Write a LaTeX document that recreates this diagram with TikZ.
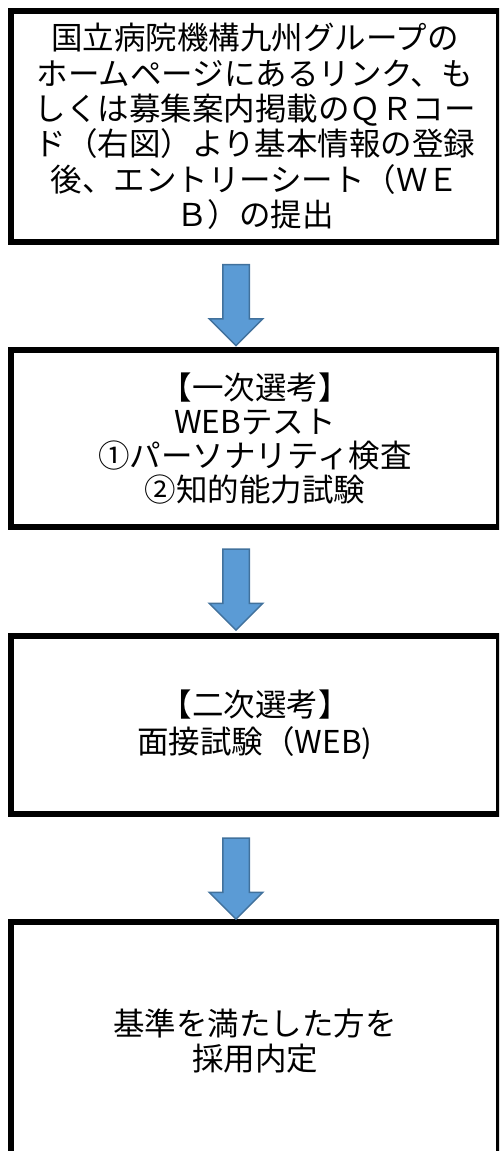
\documentclass[tikz,border=0pt]{standalone}
\usepackage{fontspec}
\setmainfont{Noto Sans CJK JP}
\usetikzlibrary{shapes.arrows}
\definecolor{arrowblue}{HTML}{5B9BD5}
\definecolor{arrowedge}{HTML}{41719C}

\begin{document}
\begin{tikzpicture}[x=1pt, y=-1pt,
		stagebox/.style={draw, line width=6pt, align=center, inner sep=0pt, minimum width=488pt},
		flowarrow/.style={single arrow, draw=arrowedge, fill=arrowblue, line width=1.5pt,
			inner sep=0pt, inner ysep=12.5pt, single arrow head extend=13.5pt,
			minimum height=81pt, rotate=-90}
	]

	\useasboundingbox (0,0) rectangle (499,1151);
	\clip (0,0) rectangle (499,1151);

	\node[stagebox, minimum height=231pt, font=\fontsize{31.5}{35.4}\selectfont] (entry) at (255,126.5) {
		国立病院機構九州グループの\\
		ホームページにあるリンク、も\\
		しくは募集案内掲載のＱＲコー\\
		ド（右図）より基本情報の登録\\
		後、エントリーシート（ＷＥ\\
		Ｂ）の提出
	};

	\node[stagebox, minimum height=177pt, font=\fontsize{31.5}{34}\selectfont] (first) at (255,438.5) {
		【一次選考】\\
		WEBテスト\\
		①パーソナリティ検査\\
		②知的能力試験
	};

	\node[stagebox, minimum height=178pt, font=\fontsize{31.5}{37}\selectfont] (second) at (255,725) {
		【二次選考】\\
		面接試験（WEB)
	};

	\node[stagebox, minimum height=238pt, font=\fontsize{31.5}{35}\selectfont] (offer) at (255,1041) {
		基準を満たした方を\\
		採用内定
	};

	% block arrows between the stages
	\node[flowarrow] (arrA) at (236,298.5) {};
	\node[flowarrow] (arrB) at (236,583) {};
	\node[flowarrow] (arrC) at (236,872) {};

\end{tikzpicture}
\end{document}
